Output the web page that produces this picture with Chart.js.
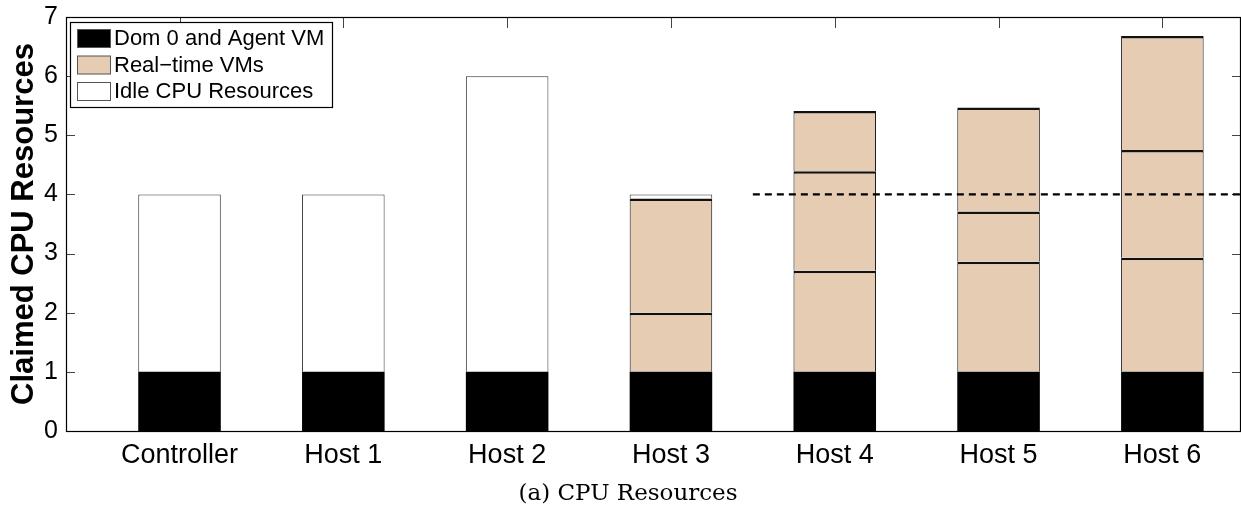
<!DOCTYPE html>
<html>
<head>
<meta charset="utf-8">
<script src="https://cdn.jsdelivr.net/npm/chart.js@4.4.1/dist/chart.umd.min.js"></script>
<style>
html,body{margin:0;padding:0;background:#fff;}
#wrap{position:relative;width:1241px;height:510px;}
</style>
</head>
<body>
<div id="wrap"><canvas id="cpuChart" width="1241" height="510"></canvas></div>
<script>
// values
const hosts=["Controller","Host 1","Host 2","Host 3","Host 4","Host 5","Host 6"];
const dom0=[1,1,1,1,1,1,1];
const rtVm1=[null,null,null,1.00,1.71,1.86,1.93];
const rtVm2=[null,null,null,1.93,1.68,0.85,1.82];
const rtVm3=[null,null,null,null,1.02,1.76,1.93];
const idle=[3,3,5,0.07,null,null,null];
const yTicks=[0,1,2,3,4,5,6,7];
const limitX=[4.5,7.48];
const limitY=[4,4];
const xRange=[0.307,7.48];

const sansFont='"Liberation Sans", Arial, sans-serif';
const tan='#E5CCB2';

const toPts=arr=>arr.map((v,i)=>({x:i+1,y:v}));
const rtBorder={top:2.5,left:1,right:1,bottom:0};

const legendRows=[
  {text:"Dom 0 and Agent VM",fill:"#000"},
  {text:"Real\u2212time VMs",fill:tan},
  {text:"Idle CPU Resources",fill:"#fff"}
];

const frame={
  id:'frame',
  beforeDatasetsDraw(chart){
    const {ctx,chartArea:a,scales:{x,y}}=chart;
    ctx.save();
    ctx.strokeStyle='#444';
    ctx.lineWidth=1;
    ctx.beginPath();
    yTicks.forEach(v=>{
      const py=Math.round(y.getPixelForValue(v))+0.5;
      ctx.moveTo(a.left,py);ctx.lineTo(a.left+9,py);
      ctx.moveTo(a.right,py);ctx.lineTo(a.right-9,py);
    });
    hosts.forEach((h,i)=>{
      const px=Math.round(x.getPixelForValue(i+1))+0.5;
      ctx.moveTo(px,a.top);ctx.lineTo(px,a.top+11);
      ctx.moveTo(px,a.bottom);ctx.lineTo(px,a.bottom-11);
    });
    ctx.stroke();
    ctx.restore();
  },
  afterDraw(chart){
    const {ctx,chartArea:a}=chart;
    ctx.save();
    // axes box
    ctx.strokeStyle='#000';
    ctx.lineWidth=1.2;
    ctx.strokeRect(a.left+0.5,a.top+0.5,a.right-a.left-1,a.bottom-a.top);
    // legend
    ctx.fillStyle='#fff';
    ctx.fillRect(70.5,22.5,262,85);
    ctx.lineWidth=1.2;
    ctx.strokeRect(70.5,22.5,262,85);
    ctx.font='22px '+sansFont;
    ctx.textBaseline='middle';
    ctx.textAlign='left';
    legendRows.forEach((r,i)=>{
      const top=29+i*26.5;
      ctx.fillStyle=r.fill;
      ctx.fillRect(77.5,top+0.5,33,18);
      ctx.strokeStyle='#555';
      ctx.lineWidth=1;
      ctx.strokeRect(77.5,top+0.5,33,18);
      ctx.fillStyle='#000';
      ctx.fillText(r.text,114,top+10);
    });
    // caption
    ctx.font='23px "DejaVu Serif", serif';
    ctx.textAlign='center';
    ctx.fillText('(a) CPU Resources',628,494);
    ctx.restore();
  }
};

new Chart(document.getElementById('cpuChart'),{
  data:{
    datasets:[
      {type:'bar',label:'Dom 0 and Agent VM',data:toPts(dom0),backgroundColor:'#000',borderWidth:0,order:1},
      {type:'bar',label:'Real-time VMs',data:toPts(rtVm1),backgroundColor:tan,borderColor:'#111',borderWidth:rtBorder,order:1},
      {type:'bar',label:'Real-time VMs 2',data:toPts(rtVm2),backgroundColor:tan,borderColor:'#111',borderWidth:rtBorder,order:1},
      {type:'bar',label:'Real-time VMs 3',data:toPts(rtVm3),backgroundColor:tan,borderColor:'#111',borderWidth:rtBorder,order:1},
      {type:'bar',label:'Idle CPU Resources',data:toPts(idle),backgroundColor:'#fff',borderColor:'#333',borderWidth:{top:1,left:1,right:1,bottom:0},order:1},
      {type:'line',label:'limit',stack:'limit',data:limitX.map((v,i)=>({x:v,y:limitY[i]})),borderColor:'#000',borderWidth:2.2,borderDash:[7,5],pointRadius:0,fill:false,order:0}
    ]
  },
  options:{
    responsive:false,
    animation:false,
    devicePixelRatio:1,
    layout:{padding:{left:0,right:0,top:17,bottom:0}},
    datasets:{bar:{barPercentage:0.504,categoryPercentage:1,borderSkipped:false}},
    plugins:{legend:{display:false},tooltip:{enabled:false},title:{display:false}},
    scales:{
      x:{
        type:'linear',stacked:true,offset:false,min:xRange[0],max:xRange[1],
        grid:{display:false,drawTicks:false,offset:false},border:{display:false},
        afterBuildTicks:s=>{s.ticks=hosts.map((h,i)=>({value:i+1}));},
        afterFit:s=>{s.height=79;s.paddingLeft=0;s.paddingRight=0;},
        ticks:{autoSkip:false,maxRotation:0,padding:8,color:'#000',font:{family:sansFont,size:27},
          callback:v=>hosts[Math.round(v)-1]||''}
      },
      y:{
        type:'linear',stacked:true,min:0,max:7,
        grid:{display:false,drawTicks:false},border:{display:false},
        afterBuildTicks:s=>{s.ticks=yTicks.map(v=>({value:v}));},
        afterFit:s=>{s.width=66;s.paddingTop=0;s.paddingBottom=0;},
        ticks:{padding:8,color:'#000',font:{family:sansFont,size:25}},
        title:{display:true,text:'Claimed CPU Resources',color:'#000',padding:{top:6,bottom:0},
          font:{family:sansFont,size:31,weight:'bold'}}
      }
    }
  },
  plugins:[frame]
});
</script>
</body>
</html>
